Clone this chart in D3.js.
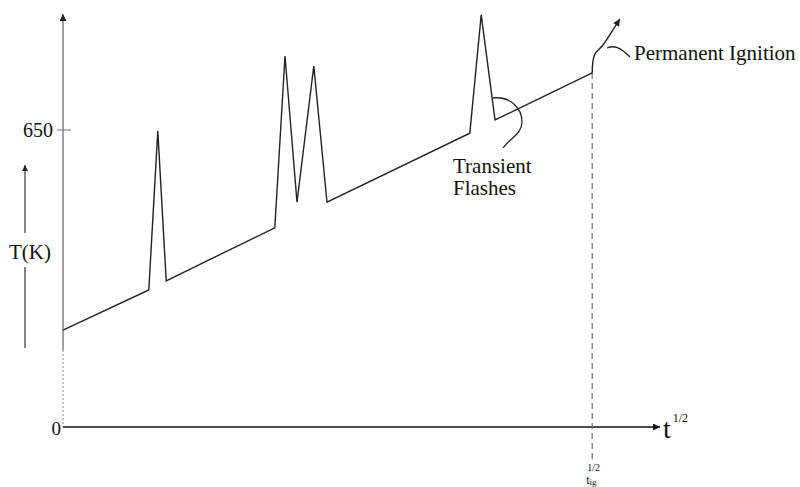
<!DOCTYPE html>
<html>
<head>
<meta charset="utf-8">
<script src="https://cdn.jsdelivr.net/npm/d3@7"></script>
<style>
  html, body { margin: 0; padding: 0; background: #fff; }
  svg { display: block; font-family: "Liberation Serif", "Times New Roman", serif; }
</style>
</head>
<body>
<svg id="chart" width="800" height="487"></svg>
<script>
// ---- data (t^(1/2) in arbitrary units, T in K) ----
const rootT = [0, 1.43, 1.58, 1.72, 3.53, 3.70, 3.90, 4.18, 4.40, 6.78, 6.97, 7.20, 8.82];
const tempK = [212, 300, 648, 320, 436, 812, 492, 790, 492, 643, 902, 672, 775];
const ignitionRootT = [8.82, 8.86, 9.00, 9.28];
const ignitionTempK = [775, 815, 836, 893];
const yTickValues = [650];
const yTickLabels = ["650"];
const originLabel = "0";
const ignitionX = 8.82;

const svg = d3.select("#chart");
const x = d3.scaleLinear().domain([0, 10]).range([63, 663]);
const y = d3.scaleLinear().domain([0, 650]).range([427, 130]);

const defs = svg.append("defs");
function marker(id, color, w, h) {
  defs.append("marker")
    .attr("id", id).attr("viewBox", "0 0 10 10")
    .attr("refX", 10).attr("refY", 5)
    .attr("markerUnits", "userSpaceOnUse")
    .attr("markerWidth", w).attr("markerHeight", h)
    .attr("orient", "auto")
    .append("path").attr("d", "M0,0 L10,5 L0,10 Z").attr("fill", color);
}
marker("arrAxis", "#111", 20, 7);
marker("arrY", "#222", 20, 7);
marker("arrSmall", "#222", 18, 6);
marker("arrTip", "#222", 12, 7);

const x0 = x(0), y0 = y(0);

// Y axis (solid upper part, dotted lower part)
svg.append("line")
  .attr("x1", x0).attr("x2", x0).attr("y1", 350).attr("y2", 14)
  .attr("stroke", "#777").attr("stroke-width", 1.4)
  .attr("marker-end", "url(#arrY)");
svg.append("line")
  .attr("x1", x0).attr("x2", x0).attr("y1", 350).attr("y2", y0)
  .attr("stroke", "#999").attr("stroke-width", 1.2)
  .attr("stroke-dasharray", "2,2");

// Y tick
yTickValues.forEach((v, i) => {
  svg.append("line")
    .attr("x1", x0 - 6).attr("x2", x0 + 8)
    .attr("y1", y(v)).attr("y2", y(v))
    .attr("stroke", "#888").attr("stroke-width", 1.2);
  svg.append("text")
    .attr("x", x0 - 10).attr("y", y(v))
    .attr("text-anchor", "end").attr("dominant-baseline", "central")
    .attr("font-size", 20).attr("fill", "#111")
    .text(yTickLabels[i]);
});

// origin label
svg.append("text")
  .attr("x", x0 - 2).attr("y", y0 + 1)
  .attr("text-anchor", "end").attr("dominant-baseline", "central")
  .attr("font-size", 19).attr("fill", "#111")
  .text(originLabel);

// X axis
svg.append("line")
  .attr("x1", x0).attr("x2", 660).attr("y1", y0).attr("y2", y0)
  .attr("stroke", "#111").attr("stroke-width", 1.4)
  .attr("marker-end", "url(#arrAxis)");

// x axis label t^(1/2)
const xl = svg.append("text")
  .attr("x", 663).attr("y", 438)
  .attr("font-size", 28).attr("fill", "#111");
xl.append("tspan").text("t");
xl.append("tspan").attr("dx", 2).attr("dy", -16).attr("font-size", 12).text("1/2");

// T(K) side arrow + label
svg.append("line")
  .attr("x1", 25).attr("x2", 25).attr("y1", 233).attr("y2", 165)
  .attr("stroke", "#444").attr("stroke-width", 1.3)
  .attr("marker-end", "url(#arrSmall)");
svg.append("line")
  .attr("x1", 25).attr("x2", 25).attr("y1", 267).attr("y2", 348)
  .attr("stroke", "#444").attr("stroke-width", 1.3);
svg.append("text")
  .attr("x", 30).attr("y", 252)
  .attr("text-anchor", "middle").attr("dominant-baseline", "central")
  .attr("font-size", 21).attr("fill", "#111")
  .text("T(K)");

// dashed vertical at ignition
const ignY = y(ignitionTempK[0]);
svg.append("line")
  .attr("x1", x(ignitionX)).attr("x2", x(ignitionX))
  .attr("y1", ignY).attr("y2", 462)
  .attr("stroke", "#777").attr("stroke-width", 1.3)
  .attr("stroke-dasharray", "6,4");

// t_ig^(1/2) label
svg.append("text")
  .attr("x", x(ignitionX) - 5).attr("y", 471)
  .attr("font-size", 10).attr("fill", "#111").text("1/2");
const tig = svg.append("text")
  .attr("x", x(ignitionX) - 6).attr("y", 484)
  .attr("font-size", 12).attr("fill", "#111");
tig.append("tspan").text("t");
tig.append("tspan").attr("font-size", 9).attr("dy", 1).text("ig");

// main temperature trace
const pts = rootT.map((t, i) => [t, tempK[i]]);
const line = d3.line().x(d => x(d[0])).y(d => y(d[1]));
svg.append("path")
  .attr("d", line(pts))
  .attr("fill", "none").attr("stroke", "#222").attr("stroke-width", 1.4)
  .attr("stroke-linejoin", "miter");

// permanent ignition runaway curve
const ipts = ignitionRootT.map((t, i) => [t, ignitionTempK[i]]);
const curve = d3.line().curve(d3.curveCatmullRom.alpha(0.5)).x(d => x(d[0])).y(d => y(d[1]));
svg.append("path")
  .attr("d", curve(ipts))
  .attr("fill", "none").attr("stroke", "#222").attr("stroke-width", 1.4)
  .attr("marker-end", "url(#arrTip)");

// annotation: Permanent Ignition
svg.append("path")
  .attr("d", "M607,48 C614,45 620,47 630,57")
  .attr("fill", "none").attr("stroke", "#222").attr("stroke-width", 1.3);
svg.append("text")
  .attr("x", 634).attr("y", 60)
  .attr("font-size", 21).attr("fill", "#111")
  .text("Permanent Ignition");

// annotation: Transient Flashes
svg.append("path")
  .attr("d", "M493,98 C510,96 522,108 522,122 C522,134 510,138 503,148")
  .attr("fill", "none").attr("stroke", "#222").attr("stroke-width", 1.3);
svg.append("text")
  .attr("x", 453).attr("y", 173)
  .attr("font-size", 21).attr("fill", "#111")
  .text("Transient");
svg.append("text")
  .attr("x", 453).attr("y", 195)
  .attr("font-size", 21).attr("fill", "#111")
  .text("Flashes");
</script>
</body>
</html>
